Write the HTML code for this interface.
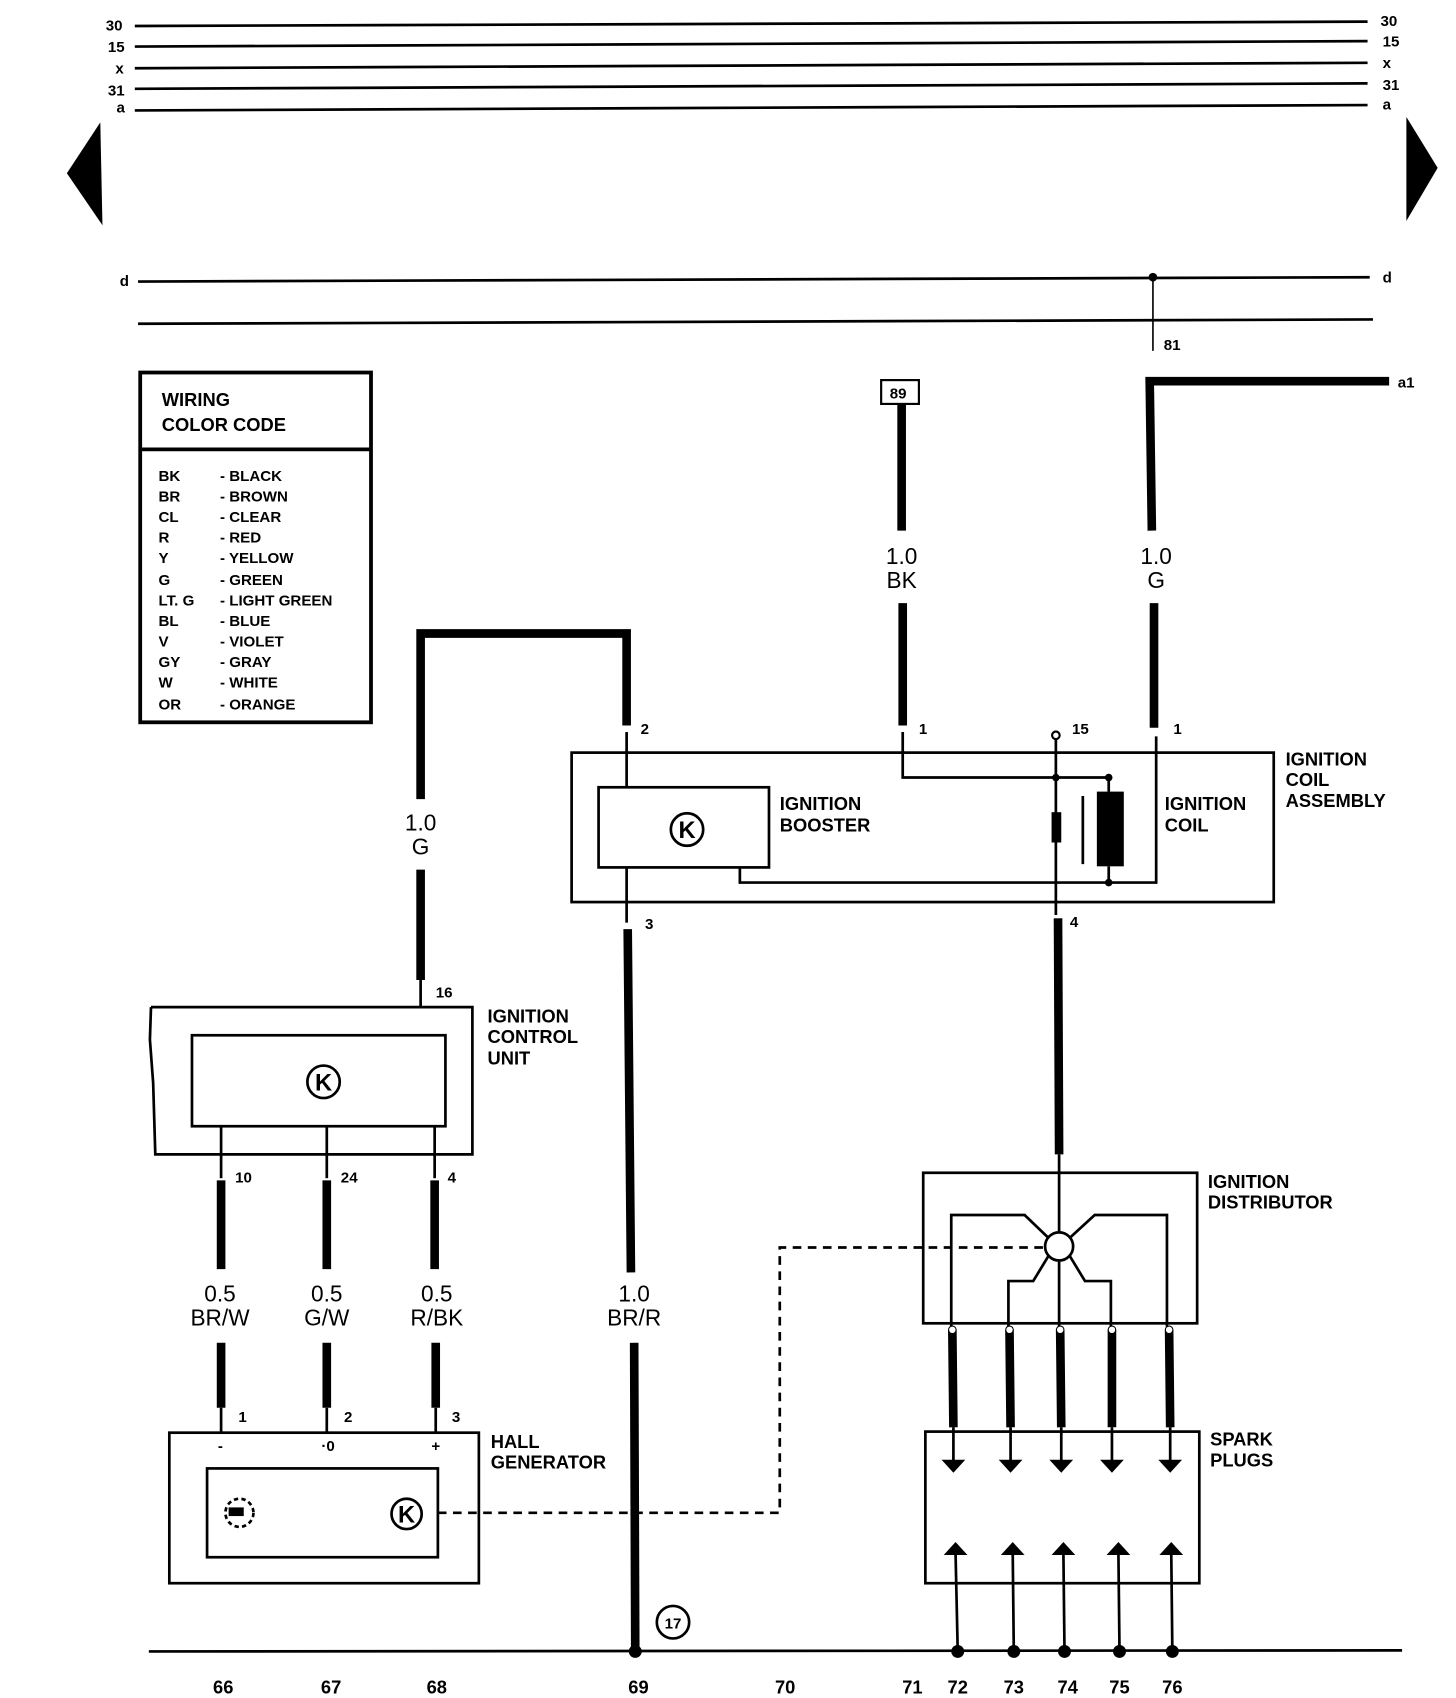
<!DOCTYPE html>
<html><head><meta charset="utf-8"><style>
html,body{margin:0;padding:0;background:#fff;}
svg{display:block;}
text{font-family:"Liberation Sans",sans-serif;fill:#000;}
.b{font-weight:bold;font-size:17px;}
.s{font-weight:bold;font-size:14px;}
.w{font-size:21px;}
</style></head><body>
<svg width="1456" height="1698" viewBox="0 0 1350 1568" preserveAspectRatio="none" xmlns="http://www.w3.org/2000/svg">
<g stroke="#000" fill="none" stroke-width="2.5">
<line x1="125" y1="24" x2="1268" y2="20"/>
<line x1="125" y1="43" x2="1268" y2="38"/>
<line x1="125" y1="63" x2="1268" y2="58"/>
<line x1="125" y1="82" x2="1268" y2="77"/>
<line x1="125" y1="102" x2="1268" y2="97"/>
<line x1="128" y1="260" x2="1270" y2="256"/>
<line x1="128" y1="299" x2="1273" y2="295"/>
<line x1="1069" y1="256" x2="1069" y2="324" stroke-width="1.5"/>
<line x1="138" y1="1525" x2="1300" y2="1524"/>
</g>
<circle cx="1069" cy="256" r="4"/>
<polygon points="62,160 93,113 95,208"/>
<polygon points="1333,155 1304,108 1304,204"/>
<g class="s">
<text x="98" y="28">30</text><text x="100" y="48">15</text><text x="107" y="68">x</text><text x="100" y="88">31</text><text x="108" y="104">a</text>
<text x="1280" y="24">30</text><text x="1282" y="43">15</text><text x="1282" y="63">x</text><text x="1282" y="83">31</text><text x="1282" y="101">a</text>
<text x="111" y="264">d</text><text x="1282" y="261">d</text>
<text x="1079" y="323">81</text><text x="1296" y="358">a1</text>
</g>
<!-- color code -->
<rect x="130" y="344" width="214" height="323" fill="none" stroke="#000" stroke-width="3.5"/>
<line x1="130" y1="415" x2="344" y2="415" stroke="#000" stroke-width="3.5"/>
<g class="b"><text x="150" y="375">WIRING</text><text x="150" y="398">COLOR CODE</text></g>
<g class="s">
<text x="147" y="444">BK</text><text x="204" y="444">- BLACK</text>
<text x="147" y="463">BR</text><text x="204" y="463">- BROWN</text>
<text x="147" y="482">CL</text><text x="204" y="482">- CLEAR</text>
<text x="147" y="501">R</text><text x="204" y="501">- RED</text>
<text x="147" y="520">Y</text><text x="204" y="520">- YELLOW</text>
<text x="147" y="540">G</text><text x="204" y="540">- GREEN</text>
<text x="147" y="559">LT. G</text><text x="204" y="559">- LIGHT GREEN</text>
<text x="147" y="578">BL</text><text x="204" y="578">- BLUE</text>
<text x="147" y="597">V</text><text x="204" y="597">- VIOLET</text>
<text x="147" y="616">GY</text><text x="204" y="616">- GRAY</text>
<text x="147" y="635">W</text><text x="204" y="635">- WHITE</text>
<text x="147" y="655">OR</text><text x="204" y="655">- ORANGE</text>
</g>
<!-- thick wires -->
<g stroke="#000" fill="none" stroke-width="8">
<line x1="836" y1="373" x2="836" y2="490"/><line x1="837" y1="557" x2="837" y2="670"/>
<polyline points="1288,352 1066,352 1068,490"/><line x1="1070" y1="557" x2="1070" y2="672"/>
<polyline points="390,738 390,585 581,585 581,670"/><line x1="390" y1="803" x2="390" y2="905"/>
<line x1="582" y1="858" x2="585" y2="1175"/><line x1="588" y1="1240" x2="589" y2="1525"/>
<line x1="981" y1="848" x2="982" y2="1066"/>
<line x1="205" y1="1090" x2="205" y2="1172"/><line x1="303" y1="1090" x2="303" y2="1172"/><line x1="403" y1="1090" x2="403" y2="1172"/>
<line x1="205" y1="1240" x2="205" y2="1300"/><line x1="303" y1="1240" x2="303" y2="1300"/><line x1="404" y1="1240" x2="404" y2="1300"/>
<line x1="883" y1="1228" x2="884" y2="1318"/><line x1="936" y1="1228" x2="937" y2="1318"/><line x1="983" y1="1228" x2="984" y2="1318"/><line x1="1031" y1="1228" x2="1031" y2="1318"/><line x1="1084" y1="1228" x2="1085" y2="1318"/>
</g>
<rect x="817" y="351" width="35" height="22" fill="#fff" stroke="#000" stroke-width="2"/>
<text x="825" y="368" class="s">89</text>
<g class="w" text-anchor="middle">
<text x="836" y="521">1.0</text><text x="836" y="543">BK</text>
<text x="1072" y="521">1.0</text><text x="1072" y="543">G</text>
<text x="390" y="767">1.0</text><text x="390" y="789">G</text>
<text x="588" y="1202">1.0</text><text x="588" y="1224">BR/R</text>
<text x="204" y="1202">0.5</text><text x="204" y="1224">BR/W</text>
<text x="303" y="1202">0.5</text><text x="303" y="1224">G/W</text>
<text x="405" y="1202">0.5</text><text x="405" y="1224">R/BK</text>
</g>
<!-- coil assembly -->
<g stroke="#000" fill="none" stroke-width="2.5">
<rect x="530" y="695" width="651" height="138"/>
<rect x="555" y="727" width="158" height="74"/>
<line x1="581" y1="676" x2="581" y2="727"/><line x1="581" y1="801" x2="581" y2="852"/>
<polyline points="686,801 686,815 1072,815 1072,680"/>
<polyline points="837,676 837,718 1028,718 1028,731"/>
<line x1="979" y1="683" x2="979" y2="845"/>
<line x1="1004" y1="735" x2="1004" y2="798"/>
<line x1="1028" y1="800" x2="1028" y2="815"/>
<circle cx="637" cy="766" r="15"/>
<circle cx="979" cy="679" r="3.5" fill="#fff" stroke-width="2"/>
<circle cx="300" cy="999" r="15"/>
<circle cx="377" cy="1398" r="14"/>
<circle cx="222" cy="1397" r="13" stroke-dasharray="4,3"/>
</g>
<rect x="975" y="750" width="9" height="28"/><rect x="1017" y="731" width="25" height="69"/>
<circle cx="979" cy="718" r="3.5"/><circle cx="1028" cy="718" r="3.5"/><circle cx="1028" cy="815" r="3.5"/>
<rect x="212" y="1392" width="14" height="8"/>
<g font-family="Liberation Sans" font-weight="bold" font-size="22" text-anchor="middle"><text x="637" y="774">K</text><text x="300" y="1007">K</text><text x="377" y="1406">K</text></g>
<g class="b">
<text x="723" y="748">IGNITION</text><text x="723" y="768">BOOSTER</text>
<text x="1080" y="748">IGNITION</text><text x="1080" y="768">COIL</text>
<text x="1192" y="707">IGNITION</text><text x="1192" y="726">COIL</text><text x="1192" y="745">ASSEMBLY</text>
<text x="452" y="944">IGNITION</text><text x="452" y="963">CONTROL</text><text x="452" y="983">UNIT</text>
<text x="455" y="1337">HALL</text><text x="455" y="1356">GENERATOR</text>
<text x="1120" y="1097">IGNITION</text><text x="1120" y="1116">DISTRIBUTOR</text>
<text x="1122" y="1335">SPARK</text><text x="1122" y="1354">PLUGS</text>
</g>
<g class="s" font-size="16">
<text x="594" y="678">2</text><text x="852" y="678">1</text><text x="994" y="678">15</text><text x="1088" y="678">1</text>
<text x="598" y="858">3</text><text x="992" y="856">4</text>
<text x="404" y="921">16</text>
<text x="218" y="1092">10</text><text x="316" y="1092">24</text><text x="415" y="1092">4</text>
<text x="221" y="1313">1</text><text x="319" y="1313">2</text><text x="419" y="1313">3</text>
<text x="202" y="1340">-</text><text x="298" y="1340">·0</text><text x="400" y="1340">+</text>
</g>
<!-- control unit -->
<g stroke="#000" fill="none" stroke-width="2.5">
<polyline points="140,930 438,930 438,1066 144,1066 142,1000 139,960 140,930"/>
<rect x="178" y="956" width="235" height="84"/>
<line x1="390" y1="905" x2="390" y2="930"/>
<line x1="205" y1="1040" x2="205" y2="1088"/><line x1="303" y1="1040" x2="303" y2="1088"/><line x1="403" y1="1040" x2="403" y2="1088"/>
<rect x="157" y="1323" width="287" height="139"/>
<rect x="192" y="1356" width="214" height="82"/>
<line x1="205" y1="1300" x2="205" y2="1323"/><line x1="303" y1="1300" x2="303" y2="1323"/><line x1="404" y1="1300" x2="404" y2="1323"/>
<polyline points="406,1397 723,1397 723,1152 968,1152" stroke-dasharray="8,6"/>
<rect x="856" y="1083" width="254" height="139"/>
<circle cx="982" cy="1151" r="13"/>
<line x1="982" y1="1066" x2="982" y2="1138"/>
<polyline points="882,1225 882,1122 950,1122 972,1143"/>
<polyline points="1082,1225 1082,1122 1015,1122 992,1143"/>
<polyline points="935,1225 935,1183 958,1183 972,1160"/>
<polyline points="1030,1225 1030,1183 1006,1183 992,1160"/>
<line x1="982" y1="1164" x2="982" y2="1225"/>
<rect x="858" y="1322" width="254" height="140"/>
<line x1="884" y1="1318" x2="884" y2="1350"/><line x1="937" y1="1318" x2="937" y2="1350"/><line x1="984" y1="1318" x2="984" y2="1350"/><line x1="1031" y1="1318" x2="1031" y2="1350"/><line x1="1085" y1="1318" x2="1085" y2="1350"/>
<line x1="886" y1="1435" x2="888" y2="1525"/><line x1="939" y1="1435" x2="940" y2="1525"/><line x1="986" y1="1435" x2="987" y2="1525"/><line x1="1037" y1="1435" x2="1038" y2="1525"/><line x1="1086" y1="1435" x2="1087" y2="1525"/>
<circle cx="624" cy="1498" r="15"/>
</g>
<g>
<polygon points="873,1348 895,1348 884,1360"/><polygon points="926,1348 948,1348 937,1360"/><polygon points="973,1348 995,1348 984,1360"/><polygon points="1020,1348 1042,1348 1031,1360"/><polygon points="1074,1348 1096,1348 1085,1360"/>
<polygon points="875,1436 897,1436 886,1424"/><polygon points="928,1436 950,1436 939,1424"/><polygon points="975,1436 997,1436 986,1424"/><polygon points="1026,1436 1048,1436 1037,1424"/><polygon points="1075,1436 1097,1436 1086,1424"/>
<circle cx="589" cy="1525" r="6"/><circle cx="888" cy="1525" r="6"/><circle cx="940" cy="1525" r="6"/><circle cx="987" cy="1525" r="6"/><circle cx="1038" cy="1525" r="6"/><circle cx="1087" cy="1525" r="6"/>
<circle cx="883" cy="1228" r="3.5" fill="#fff" stroke="#000"/><circle cx="936" cy="1228" r="3.5" fill="#fff" stroke="#000"/><circle cx="983" cy="1228" r="3.5" fill="#fff" stroke="#000"/><circle cx="1031" cy="1228" r="3.5" fill="#fff" stroke="#000"/><circle cx="1084" cy="1228" r="3.5" fill="#fff" stroke="#000"/>
</g>
<text x="624" y="1504" class="s" text-anchor="middle">17</text>
<g class="b" text-anchor="middle">
<text x="207" y="1564">66</text><text x="307" y="1564">67</text><text x="405" y="1564">68</text><text x="592" y="1564">69</text><text x="728" y="1564">70</text><text x="846" y="1564">71</text><text x="888" y="1564">72</text><text x="940" y="1564">73</text><text x="990" y="1564">74</text><text x="1038" y="1564">75</text><text x="1087" y="1564">76</text>
</g>
</svg>
</body></html>
